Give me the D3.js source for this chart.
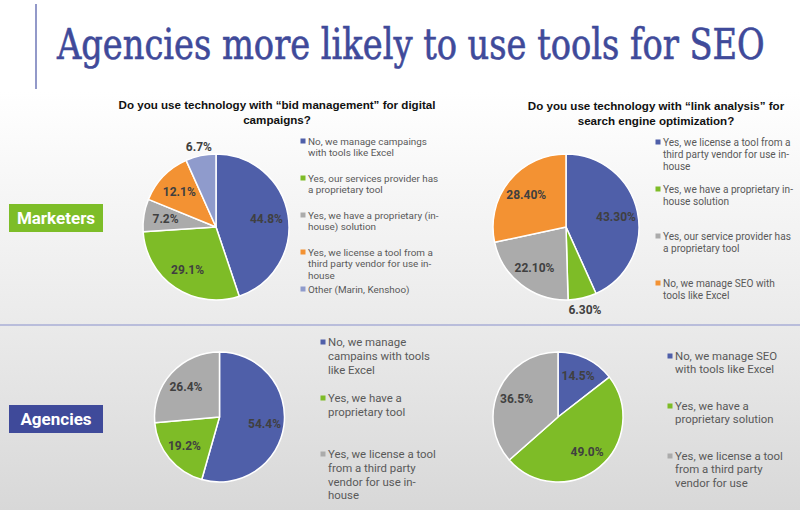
<!DOCTYPE html>
<html>
<head>
<meta charset="utf-8">
<script src="https://cdn.jsdelivr.net/npm/d3@7"></script>
<style>
  html, body { margin: 0; padding: 0; background: #fff; }
  svg { display: block; }
</style>
</head>
<body>
<svg id="chart" width="800" height="510"></svg>
<script>
// ---------------- DATA ----------------
const pageTitle = "Agencies more likely to use tools for SEO";
const groupLabels = ["Marketers", "Agencies"];

const bidTitle = ["Do you use technology with “bid management” for digital", "campaigns?"];
const linkTitle = ["Do you use technology with “link analysis” for", "search engine optimization?"];

const mktBidCategories = [
  "No, we manage campaings\nwith tools like Excel",
  "Yes, our services provider has\na proprietary tool",
  "Yes, we have a proprietary (in-\nhouse) solution",
  "Yes, we license a tool from a\nthird party vendor for use in-\nhouse",
  "Other (Marin, Kenshoo)"
];
const mktBidValues = [44.8, 29.1, 7.2, 12.1, 6.7];

const mktLinkCategories = [
  "Yes, we license a tool from a\nthird party vendor for use in-\nhouse",
  "Yes, we have a proprietary in-\nhouse solution",
  "Yes, our service provider has\na proprietary tool",
  "No, we manage SEO with\ntools like Excel"
];
const mktLinkValues = [43.3, 6.3, 22.1, 28.4];

const agBidCategories = [
  "No, we manage\ncampains with tools\nlike Excel",
  "Yes, we have a\nproprietary tool",
  "Yes, we license a tool\nfrom a third party\nvendor for use in-\nhouse"
];
const agBidValues = [54.4, 19.2, 26.4];

const agLinkCategories = [
  "No, we manage SEO\nwith tools like Excel",
  "Yes, we have a\nproprietary solution",
  "Yes, we license a tool\nfrom a third party\nvendor for use"
];
const agLinkValues = [14.5, 49.0, 36.5];

// colours
const mktBidColors = ["#4F5FA9", "#7EBC27", "#ABABAB", "#F39233", "#8F9BCC"];
const mktLinkColors = ["#4F5FA9", "#7EBC27", "#ABABAB", "#F39233"];
const agColors = ["#4F5FA9", "#7EBC27", "#ABABAB"];

// ---------------- LAYOUT ----------------
const charts = [
  { cats: mktBidCategories, vals: mktBidValues, colors: mktBidColors, decimals: 1,
    cx: 216, cy: 227, r: 73, outside: [4], outsideR: 1.12,
    legX: 303, legY: 141, legStep: 37, legFont: 9.9, legLH: 11.6 },
  { cats: mktLinkCategories, vals: mktLinkValues, colors: mktLinkColors, decimals: 2,
    cx: 566, cy: 227, r: 73, outside: [1], outsideR: 1.16,
    legX: 658, legY: 142, legStep: 47, legFont: 10.1, legLH: 12 },
  { cats: agBidCategories, vals: agBidValues, colors: agColors, decimals: 1,
    cx: 219.5, cy: 417, r: 65, outside: [], outsideR: 1.15,
    legX: 323, legY: 342, legStep: 56, legFont: 11.4, legLH: 13.7 },
  { cats: agLinkCategories, vals: agLinkValues, colors: agColors, decimals: 1,
    cx: 558, cy: 417, r: 65, outside: [], outsideR: 1.15,
    legX: 670, legY: 356, legStep: 50, legFont: 11.4, legLH: 13.2 }
];

const W = 800, H = 510;
const svg = d3.select("#chart");

// background gradient
const defs = svg.append("defs");
const grad = defs.append("linearGradient").attr("id", "bg")
  .attr("x1", 0).attr("y1", 0).attr("x2", 0).attr("y2", 1);
grad.append("stop").attr("offset", "0%").attr("stop-color", "#ffffff");
grad.append("stop").attr("offset", "18%").attr("stop-color", "#ffffff");
grad.append("stop").attr("offset", "62%").attr("stop-color", "#ebebeb");
grad.append("stop").attr("offset", "100%").attr("stop-color", "#d8d8d8");
svg.append("rect").attr("width", W).attr("height", H).attr("fill", "url(#bg)");

// title bar and title
svg.append("line").attr("x1", 36).attr("x2", 36).attr("y1", 4).attr("y2", 89)
  .attr("stroke", "#4A55A5").attr("stroke-width", 1.2);
const titleG = svg.append("g");
const titleT = titleG.append("text").attr("x", 0).attr("y", 0)
  .attr("font-family", "'Roboto Slab', 'DejaVu Serif Condensed', 'DejaVu Serif', serif")
  .attr("font-size", 42).attr("fill", "#3F4A9A")
  .attr("stroke", "#3F4A9A").attr("stroke-width", 0.6)
  .text(pageTitle);
const natW = titleT.node().getComputedTextLength();
const sx = Math.min(1, 708 / natW);
titleG.attr("transform", `translate(57,59) scale(${sx},1)`);

// separator line
svg.append("line").attr("x1", 0).attr("x2", W).attr("y1", 325).attr("y2", 325)
  .attr("stroke", "#8790CC").attr("stroke-width", 1.2);

// group labels
const groupBoxes = [
  { y: 204, fill: "#7DBD28" },
  { y: 405, fill: "#3F4A9A" }
];
groupLabels.forEach((g, i) => {
  const b = groupBoxes[i];
  svg.append("rect").attr("x", 9).attr("y", b.y).attr("width", 94).attr("height", 28)
    .attr("fill", b.fill);
  svg.append("text").attr("x", 56).attr("y", b.y + 14).attr("dy", "0.36em")
    .attr("text-anchor", "middle").attr("font-family", "Roboto, 'Liberation Sans', sans-serif")
    .attr("font-weight", "bold").attr("font-size", 17).attr("fill", "#fff").text(g);
});

// chart titles
function chartTitle(lines, cx, y0) {
  const t = svg.append("text").attr("text-anchor", "middle")
    .attr("font-family", "'Liberation Sans', Arial, sans-serif").attr("font-weight", "bold")
    .attr("font-size", 11.6).attr("fill", "#111");
  lines.forEach((l, i) => t.append("tspan").attr("x", cx).attr("y", y0 + i * 14.5).text(l));
}
chartTitle(bidTitle, 277, 109);
chartTitle(linkTitle, 656, 110);

// pies
charts.forEach(c => {
  const pie = d3.pie().sort(null).value(d => d);
  const arcs = pie(c.vals);
  const arc = d3.arc().innerRadius(0).outerRadius(c.r);
  const labelArc = d3.arc().innerRadius(c.r * 0.7).outerRadius(c.r * 0.7);
  const outArc = d3.arc().innerRadius(c.r * c.outsideR).outerRadius(c.r * c.outsideR);
  const g = svg.append("g").attr("transform", `translate(${c.cx},${c.cy})`);
  g.selectAll("path").data(arcs).join("path")
    .attr("d", arc).attr("fill", (d, i) => c.colors[i])
    .attr("stroke", "#fff").attr("stroke-width", 1.5).attr("stroke-linejoin", "round");
  g.selectAll("text.lbl").data(arcs).join("text").attr("class", "lbl")
    .attr("transform", (d, i) => {
      const p = c.outside.includes(i) ? outArc.centroid(d) : labelArc.centroid(d);
      return `translate(${p[0]},${p[1]})`;
    })
    .attr("text-anchor", "middle").attr("dy", "0.36em")
    .attr("font-family", "Roboto, 'Liberation Sans', sans-serif").attr("font-weight", "bold")
    .attr("font-size", 12).attr("fill", "#404040")
    .text(d => d.data.toFixed(c.decimals) + "%");

  // legend
  const lg = svg.append("g");
  c.cats.forEach((cat, i) => {
    const y = c.legY + i * c.legStep;
    lg.append("rect").attr("x", c.legX - 2.5).attr("y", y - 2.5).attr("width", 5).attr("height", 5)
      .attr("fill", c.colors[i]);
    const t = lg.append("text").attr("font-family", "Roboto, 'Liberation Sans', sans-serif")
      .attr("font-size", c.legFont).attr("fill", "#595959");
    cat.split("\n").forEach((line, k) => {
      t.append("tspan").attr("x", c.legX + 5).attr("y", y + k * c.legLH).attr("dy", "0.36em").text(line);
    });
  });
});
</script>
</body>
</html>
